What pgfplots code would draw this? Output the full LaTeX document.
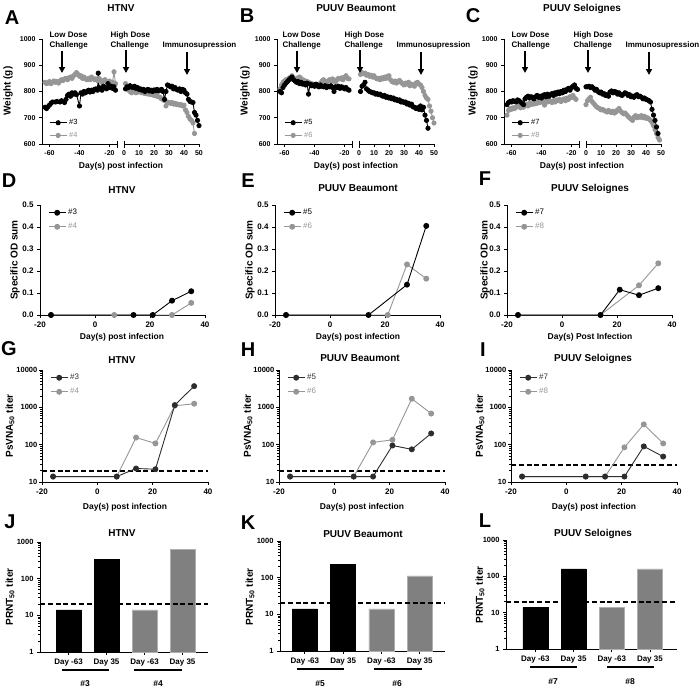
\documentclass[border=0pt]{standalone}
\usepackage{pgfplots}
\pgfplotsset{compat=1.18}
\usepackage{fontspec}
\setmainfont{Liberation Sans}
\usetikzlibrary{arrows.meta}
\definecolor{gr}{RGB}{150,150,150}
\definecolor{dk}{RGB}{45,45,45}
\definecolor{barg}{RGB}{128,128,128}
\definecolor{bare}{RGB}{175,175,175}
\pgfplotsset{
  mybase/.style={
    scale only axis, anchor=south west, clip=false,
    axis x line*=bottom, axis y line*=left,
    axis line style={line width=0.9pt},
    tick align=outside, major tick length=3pt, minor tick length=1.6pt,
    every tick/.append style={black, line width=0.8pt},
    /pgf/number format/assume math mode=true,
    /pgf/number format/1000 sep={},
    tick label style={font=\bfseries\fontsize{8}{9}\selectfont},
    legend style={draw=none, fill=none, inner sep=0pt, font=\fontsize{8}{9}\selectfont, row sep=3pt, cells={anchor=west}},
  },
  mywt/.style={mybase, width=75pt, height=105pt, ymin=600, ymax=1000, ytick={600,700,800,900,1000},
     tick label style={font=\bfseries\fontsize{7}{8}\selectfont}},
  mywl/.style={mywt, xmin=-65, xmax=-15, xtick={-60,-40,-20},
     legend style={at={(0,0)}, anchor=south west, xshift=7pt, yshift=3pt, row sep=2pt, font=\fontsize{7.5}{8}\selectfont}, reverse legend},
  mywr/.style={mywt, xmin=0, xmax=50, xtick={0,10,20,30,40,50}, axis y line=none},
  myod/.style={mybase, width=165pt, height=110pt, xmin=-20, xmax=40, xtick={-20,0,20,40}, ymin=0, ymax=0.5,
     ytick={0,0.1,0.2,0.3,0.4,0.5}, yticklabel style={/pgf/number format/fixed, /pgf/number format/fixed zerofill, /pgf/number format/precision=1},
     legend style={at={(0,1)}, anchor=north west, xshift=8pt, yshift=-2pt}, reverse legend},
  myps/.style={mybase, width=166pt, height=112pt, xmin=-20, xmax=40, xtick={-20,0,20,40}, ymin=10, ymax=10000,
     ytick={10,100,1000,10000}, yticklabel style={font=\bfseries\fontsize{7.5}{8}\selectfont, inner sep=1.5pt},
     legend style={at={(0,1)}, anchor=north west, xshift=8pt, yshift=-2pt}, reverse legend},
  mypr/.style={mybase, height=110pt, ymin=1, ymax=1000, ytick={1,10,100,1000},
     xtick={1,2,3,4}, xticklabels={Day -63,Day 35,Day -63,Day 35},
     tick label style={font=\bfseries\fontsize{7.5}{8}\selectfont},
     xticklabel style={font=\bfseries\fontsize{8}{9}\selectfont}},
  swb/.style={black, line width=0.9pt, mark=*, mark size=2.1pt},
  swg/.style={gr, line width=0.9pt, mark=*, mark size=2.1pt},
  sob/.style={black, line width=0.9pt, mark=*, mark size=2.5pt},
  sog/.style={gr, line width=0.9pt, mark=*, mark size=2.5pt},
  spb/.style={dk, line width=0.9pt, mark=*, mark size=2.5pt},
  scut/.style={black, line width=2pt, dash pattern=on 5pt off 2.8pt},
  sbb/.style={ybar, bar width=25pt, bar shift=0pt, fill=black, draw=black},
  sbg/.style={ybar, bar width=25pt, bar shift=0pt, fill=barg, draw=bare},
}
\tikzset{
  ttl/.style={font=\bfseries\fontsize{10}{12}\selectfont, anchor=base},
  plet/.style={font=\bfseries\fontsize{20}{24}\selectfont, anchor=base},
  xlb/.style={font=\bfseries\fontsize{8.5}{10}\selectfont, anchor=base},
  ylb/.style={font=\bfseries\fontsize{10}{12}\selectfont, rotate=90, anchor=center},
  ann/.style={font=\bfseries\fontsize{8}{10}\selectfont, anchor=base west, align=left},
  arr/.style={line width=1.5pt, -{Triangle[width=6pt,length=6pt]}},
}
\begin{document}
\begin{tikzpicture}
\useasboundingbox (0,0) rectangle (700pt,-688pt);
% ================= A =================
\begin{axis}[mywl, at={(42pt,-144pt)}]
\addplot[swg] coordinates {(-63,835)(-62,830)(-61,832)(-60,838)(-59,830)(-58,835)(-57,840)(-56,835)(-55,838)(-54,832)(-53,840)(-52,845)(-51,842)(-50,848)(-49,850)(-48,845)(-47,852)(-46,855)(-45,850)(-44,860)(-43,865)(-42,872)(-41,865)(-40,858)(-39,860)(-38,850)(-37,855)(-36,848)(-35,845)(-34,850)(-33,845)(-32,855)(-31,850)(-30,845)(-29,848)(-28,842)(-27,850)(-26,845)(-25,835)(-24,840)(-23,845)(-22,838)(-21,835)(-20,840)(-19,832)(-18,835)(-17,875)(-16,830)};
\addlegendentry{\textcolor{gr}{\#4}}
\addplot[swb] coordinates {(-63,740)(-62,735)(-61,742)(-60,748)(-59,755)(-58,760)(-56,760)(-55,762)(-53,760)(-52,765)(-50,758)(-49,770)(-48,785)(-47,790)(-46,782)(-45,795)(-44,790)(-43,795)(-42,788)(-40,745)(-39,795)(-38,790)(-37,800)(-36,795)(-35,800)(-34,805)(-33,798)(-32,805)(-31,800)(-30,808)(-29,810)(-28,805)(-27.5,870)(-27,815)(-26,810)(-25,805)(-24,820)(-23,815)(-22,810)(-21,830)(-20,815)(-19,820)(-18,812)(-17,818)(-16,805)};
\addlegendentry{\#3}
\end{axis}
\begin{axis}[mywr, at={(124pt,-144pt)}]
\addplot[swg] coordinates {(1,830)(2,815)(3,805)(4,800)(5,795)(6,808)(7,800)(8,795)(9,802)(10,798)(11,800)(12,795)(13,798)(14,792)(15,795)(16,790)(17,795)(18,788)(19,790)(20,785)(21,788)(22,782)(23,780)(24,778)(25,772)(26,770)(27,765)(28,745)(29,760)(30,758)(31,755)(32,758)(33,752)(34,755)(35,750)(36,752)(37,748)(38,750)(39,745)(40,748)(41,730)(42,720)(43,705)(44,695)(45,690)(46,680)(47,640)};
\addplot[swb] coordinates {(1,810)(2,818)(3,815)(4,822)(5,818)(6,815)(7,820)(8,812)(9,815)(10,808)(11,810)(12,805)(13,808)(14,800)(15,805)(16,808)(17,802)(18,805)(19,800)(20,806)(21,803)(22,808)(23,802)(24,805)(25,808)(26,800)(27,770)(28,800)(29,825)(30,822)(31,818)(32,820)(33,810)(34,815)(35,808)(36,805)(37,810)(38,800)(39,808)(40,805)(41,795)(42,790)(43,770)(44,762)(45,760)(46,758)(47,720)(48,710)(49,690)(50,670)};
\end{axis}
% ================= B =================
\begin{axis}[mywl, at={(277pt,-144pt)}]
\addplot[swg] coordinates {(-63,810)(-62,825)(-61,835)(-60,840)(-59,845)(-58,842)(-57,850)(-56,855)(-55,860)(-54,852)(-53,845)(-52,848)(-51,852)(-50,855)(-49,850)(-48,845)(-47,842)(-46,840)(-45,838)(-44,835)(-43,832)(-42,830)(-41,828)(-40,825)(-39,822)(-38,820)(-37,825)(-36,832)(-35,840)(-34,845)(-33,838)(-32,835)(-31,840)(-30,845)(-29,842)(-28,848)(-27,840)(-26,835)(-25,845)(-24,850)(-23,848)(-22,852)(-21,845)(-20,855)(-19,860)(-18,850)(-17,848)};
\addlegendentry{\textcolor{gr}{\#6}}
\addplot[swb] coordinates {(-63,800)(-62,795)(-61,815)(-60,825)(-59,832)(-58,838)(-57,845)(-56,850)(-55,855)(-54,845)(-53,840)(-52,835)(-51,838)(-50,830)(-49,835)(-48,828)(-47,830)(-46,825)(-45,832)(-44,790)(-43,828)(-42,822)(-41,825)(-40,820)(-39,828)(-38,822)(-37,818)(-36,825)(-35,820)(-34,818)(-33,822)(-32,815)(-31,820)(-30,818)(-29,822)(-28,815)(-27,800)(-26,818)(-25,815)(-24,820)(-23,812)(-22,818)(-21,815)(-20,810)(-19,815)(-18,808)(-17,805)};
\addlegendentry{\#5}
\end{axis}
\begin{axis}[mywr, at={(359pt,-144pt)}]
\addplot[swg] coordinates {(1,865)(2,872)(3,868)(4,870)(5,862)(6,865)(7,858)(8,862)(9,855)(10,860)(11,852)(12,848)(13,850)(14,845)(15,852)(16,848)(17,855)(18,850)(19,858)(20,860)(21,845)(22,838)(23,835)(24,840)(25,832)(26,838)(27,842)(28,835)(29,830)(30,825)(31,832)(32,828)(33,835)(34,822)(35,828)(36,825)(37,820)(38,832)(39,835)(40,828)(41,825)(42,815)(43,800)(44,785)(45,775)(46,770)(47,745)(48,725)(49,700)(50,680)};
\addplot[swb] coordinates {(1,800)(2,820)(3,825)(4,835)(5,810)(6,805)(7,800)(8,798)(9,795)(10,795)(11,790)(12,792)(13,788)(14,790)(15,785)(16,782)(17,785)(18,778)(19,780)(20,775)(21,778)(22,772)(23,775)(24,768)(25,770)(26,765)(27,768)(28,760)(29,762)(30,758)(31,760)(32,752)(33,755)(34,748)(35,752)(36,742)(37,740)(38,735)(39,738)(40,732)(41,745)(42,730)(43,740)(44,710)(45,690)(46,660)};
\end{axis}
% ================= C =================
\begin{axis}[mywl, at={(504pt,-144pt)}]
\addplot[swg] coordinates {(-63,710)(-62,728)(-61,735)(-60,732)(-59,738)(-58,735)(-57,740)(-56,742)(-55,745)(-54,738)(-53,742)(-52,740)(-51,748)(-50,752)(-49,745)(-48,755)(-47,750)(-46,758)(-45,752)(-44,760)(-43,755)(-42,762)(-41,758)(-40,765)(-39,760)(-38,748)(-37,765)(-36,760)(-35,768)(-34,762)(-33,758)(-32,765)(-31,760)(-30,768)(-29,765)(-28,770)(-27,762)(-26,768)(-25,772)(-24,765)(-23,775)(-22,770)(-21,780)(-20,778)(-19,785)(-18,775)(-17,770)};
\addlegendentry{\textcolor{gr}{\#8}}
\addplot[swb] coordinates {(-63,750)(-62,758)(-61,762)(-60,760)(-59,765)(-58,762)(-57,760)(-56,768)(-55,765)(-54,760)(-53,755)(-52,750)(-51,772)(-50,778)(-49,782)(-48,775)(-47,780)(-46,778)(-45,772)(-44,780)(-43,785)(-42,778)(-41,782)(-40,775)(-39,785)(-38,788)(-37,780)(-36,790)(-35,782)(-34,788)(-33,792)(-32,785)(-31,795)(-30,790)(-29,798)(-28,792)(-27,800)(-26,795)(-25,805)(-24,800)(-23,808)(-22,812)(-21,805)(-20,815)(-19,820)(-18,825)(-17,812)(-16,808)};
\addlegendentry{\#7}
\end{axis}
\begin{axis}[mywr, at={(586pt,-144pt)}]
\addplot[swg] coordinates {(0,750)(1,765)(2,772)(3,778)(4,762)(5,755)(6,748)(7,742)(8,738)(9,735)(10,730)(11,732)(12,728)(13,725)(14,722)(15,728)(16,722)(17,720)(18,725)(19,718)(20,722)(21,730)(22,735)(23,725)(24,720)(25,715)(26,718)(27,712)(28,705)(29,700)(30,695)(31,690)(32,702)(33,708)(34,700)(35,705)(36,702)(37,708)(38,700)(39,705)(40,698)(41,700)(42,695)(43,690)(44,682)(45,670)(46,655)(47,640)(48,625)(49,615)};
\addplot[swb] coordinates {(0,818)(1,818)(2,820)(3,815)(4,818)(5,812)(6,805)(7,808)(8,800)(9,795)(10,798)(11,790)(12,792)(13,785)(14,788)(15,782)(16,798)(17,802)(18,795)(19,800)(20,798)(21,790)(22,795)(23,788)(24,785)(25,790)(26,795)(27,792)(28,785)(29,788)(30,780)(31,782)(32,778)(33,785)(34,788)(35,780)(36,782)(37,778)(38,772)(39,775)(40,770)(41,768)(42,765)(43,760)(44,732)(45,710)(46,690)(47,665)(48,640)};
\end{axis}
% ================= D E F =================
\begin{axis}[myod, at={(40pt,-315pt)}]
\addplot[sog] coordinates {(-16,0)(7,0)(28,0)(35,0.055)};
\addlegendentry{\textcolor{gr}{\#4}}
\addplot[sob] coordinates {(-16,0)(14,0)(21,0)(28,0.065)(35,0.108)};
\addlegendentry{\#3}
\end{axis}
\begin{axis}[myod, at={(275pt,-315pt)}]
\addplot[sog] coordinates {(-16,0)(21,0)(28,0.23)(35,0.165)};
\addlegendentry{\textcolor{gr}{\#6}}
\addplot[sob] coordinates {(-16,0)(14,0)(28,0.138)(35,0.405)};
\addlegendentry{\#5}
\end{axis}
\begin{axis}[myod, at={(507pt,-315pt)}]
\addplot[sog] coordinates {(-16,0)(14,0)(28,0.135)(35,0.235)};
\addlegendentry{\textcolor{gr}{\#8}}
\addplot[sob] coordinates {(-16,0)(14,0)(21,0.115)(28,0.09)(35,0.122)};
\addlegendentry{\#7}
\end{axis}
% ================= G H I =================
\begin{axis}[ymode=log, log ticks with fixed point, myps, at={(42pt,-482pt)}]
\addplot[scut, forget plot] coordinates {(-20,20)(40,20)};
\addplot[sog] coordinates {(-16,14)(7,14)(14,155)(21,108)(28,1100)(35,1250)};
\addlegendentry{\textcolor{gr}{\#4}}
\addplot[spb] coordinates {(-16,14)(7,14)(14,23)(21,22)(28,1150)(35,3700)};
\addlegendentry{\textcolor{dk}{\#3}}
\end{axis}
\begin{axis}[ymode=log, log ticks with fixed point, myps, at={(279pt,-482pt)}]
\addplot[scut, forget plot] coordinates {(-20,20)(40,20)};
\addplot[sog] coordinates {(-16,14)(7,14)(14,115)(21,135)(28,1700)(35,680)};
\addlegendentry{\textcolor{gr}{\#6}}
\addplot[spb] coordinates {(-16,14)(7,14)(14,14)(21,95)(28,75)(35,200)};
\addlegendentry{\textcolor{dk}{\#5}}
\end{axis}
\begin{axis}[ymode=log, log ticks with fixed point, myps, at={(511pt,-482pt)}, width=166pt]
\addplot[scut, forget plot] coordinates {(-20,28)(40,28)};
\addplot[sog] coordinates {(-16,14)(7,14)(14,14)(21,85)(28,350)(35,108)};
\addlegendentry{\textcolor{gr}{\#8}}
\addplot[spb] coordinates {(-16,14)(7,14)(14,14)(21,14)(28,90)(35,48)};
\addlegendentry{\textcolor{dk}{\#7}}
\end{axis}
% ================= J K L =================
\begin{axis}[ymode=log, log ticks with fixed point, mypr, at={(40pt,-652pt)}, width=168pt, xmin=0.25, xmax=4.67]
\addplot[sbb] coordinates {(1,14)(2,330)};
\addplot[sbg] coordinates {(3,14)(4,630)};
\addplot[scut] coordinates {(0.25,20)(4.67,20)};
\end{axis}
\begin{axis}[ymode=log, log ticks with fixed point, mypr, at={(280pt,-651pt)}, width=165pt, xmin=0.35, xmax=4.66]
\addplot[sbb] coordinates {(1,14)(2,230)};
\addplot[sbg] coordinates {(3,14)(4,112)};
\addplot[scut] coordinates {(0.35,20)(4.66,20)};
\end{axis}
\begin{axis}[ymode=log, log ticks with fixed point, mypr, at={(506pt,-649pt)}, width=171pt, height=109pt, xmin=0.23, xmax=4.71]
\addplot[sbb] coordinates {(1,14)(2,160)};
\addplot[sbg] coordinates {(3,14)(4,160)};
\addplot[scut] coordinates {(0.23,20)(4.71,20)};
\end{axis}
% ================= decorations =================
\foreach \bx in {117,124,352,359,579,586}{
  \draw[line width=0.9pt] (\bx pt,-140.5pt) -- (\bx pt,-147.5pt);
}
\node[plet] at (12pt,-24pt) {A};
\node[plet] at (247pt,-22pt) {B};
\node[plet] at (473pt,-22pt) {C};
\node[plet] at (9pt,-187pt) {D};
\node[plet] at (248pt,-187pt) {E};
\node[plet] at (485pt,-185pt) {F};
\node[plet] at (9pt,-355pt) {G};
\node[plet] at (248pt,-356pt) {H};
\node[plet] at (483pt,-356pt) {I};
\node[plet] at (10pt,-528pt) {J};
\node[plet] at (248pt,-529pt) {K};
\node[plet] at (485pt,-527pt) {L};
\node[ttl] at (121pt,-11.6pt) {HTNV};
\node[ttl] at (356pt,-11.6pt) {PUUV Beaumont};
\node[ttl] at (582pt,-11.6pt) {PUUV Seloignes};
\node[ttl] at (122pt,-193pt) {HTNV};
\node[ttl] at (358pt,-191pt) {PUUV Beaumont};
\node[ttl] at (590pt,-191pt) {PUUV Seloignes};
\node[ttl] at (122pt,-363.6pt) {HTNV};
\node[ttl] at (360pt,-361.6pt) {PUUV Beaumont};
\node[ttl] at (593pt,-361.6pt) {PUUV Seloignes};
\node[ttl] at (122pt,-536.6pt) {HTNV};
\node[ttl] at (363pt,-537.6pt) {PUUV Beaumont};
\node[ttl] at (593pt,-536.6pt) {PUUV Seloignes};
\node[xlb] at (121pt,-168pt) {Day(s) post infection};
\node[xlb] at (356pt,-168pt) {Day(s) post infection};
\node[xlb] at (582pt,-168pt) {Day(s) post infection};
\node[xlb] at (122pt,-339pt) {Day(s) post infection};
\node[xlb] at (358pt,-339pt) {Day(s) post infection};
\node[xlb] at (590pt,-339pt) {Day(s) Post Infection};
\node[xlb] at (125pt,-509pt) {Day(s) post infection};
\node[xlb] at (362pt,-509pt) {Day(s) post infection};
\node[xlb] at (594pt,-509pt) {Day(s) post infection};
\node[ylb] at (8pt,-91pt) {Weight (g)};
\node[ylb] at (245pt,-91pt) {Weight (g)};
\node[ylb] at (473pt,-91pt) {Weight (g)};
\node[ylb] at (15pt,-260pt) {Specific OD sum};
\node[ylb] at (250pt,-260pt) {Specific OD sum};
\node[ylb] at (485pt,-260pt) {Specific OD sum};
\node[ylb] at (10pt,-426pt) {PsVNA\textsubscript{50} titer};
\node[ylb] at (248pt,-426pt) {PsVNA\textsubscript{50} titer};
\node[ylb] at (480pt,-426pt) {PsVNA\textsubscript{50} titer};
\node[ylb] at (10pt,-597pt) {PRNT\textsubscript{50} titer};
\node[ylb] at (250pt,-597pt) {PRNT\textsubscript{50} titer};
\node[ylb] at (480pt,-595pt) {PRNT\textsubscript{50} titer};
\draw[line width=2pt] (62pt,-670pt) -- (109pt,-670pt);
\draw[line width=2pt] (134pt,-670pt) -- (182pt,-670pt);
\draw[line width=2pt] (297pt,-669pt) -- (344pt,-669pt);
\draw[line width=2pt] (374pt,-669pt) -- (422pt,-669pt);
\draw[line width=2pt] (530pt,-667pt) -- (577pt,-667pt);
\draw[line width=2pt] (607pt,-667pt) -- (654pt,-667pt);
\node[xlb] at (85pt,-686pt) {\#3};
\node[xlb] at (158pt,-686pt) {\#4};
\node[xlb] at (320pt,-686pt) {\#5};
\node[xlb] at (397pt,-686pt) {\#6};
\node[xlb] at (553pt,-684pt) {\#7};
\node[xlb] at (630pt,-684pt) {\#8};
\foreach \aL/\aH/\aI/\tL/\tH/\tI in {62/126/187/46/107/159, 297/360/421/279/341/393, 525/588/649/508/570/622}{
  \node[ann] at (\tL pt,-37pt) {Low Dose};
  \node[ann] at (\tL pt,-47pt) {Challenge};
  \node[ann] at (\tH pt,-37pt) {High Dose};
  \node[ann] at (\tH pt,-47pt) {Challenge};
  \node[ann] at (\tI pt,-47pt) {Immunosupression};
  \draw[arr] (\aL pt,-51pt) -- (\aL pt,-73pt);
  \draw[arr] (\aH pt,-50pt) -- (\aH pt,-73pt);
  \draw[arr] (\aI pt,-52pt) -- (\aI pt,-75pt);
}
\end{tikzpicture}
\end{document}
